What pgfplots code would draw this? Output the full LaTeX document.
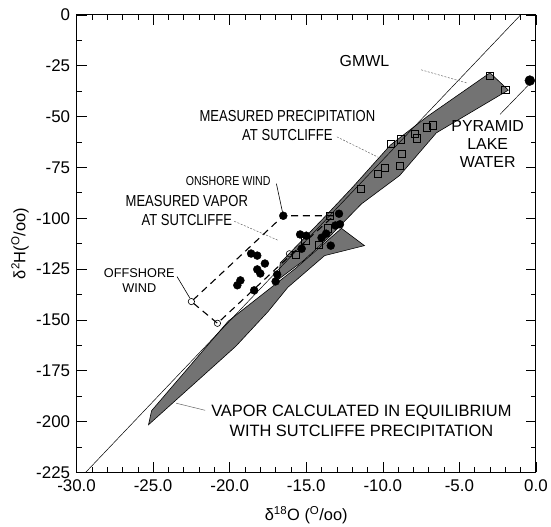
\documentclass[border=0pt]{standalone}
\usepackage{fontspec}
\setmainfont{Liberation Sans}
\newfontfamily\narrowfont[FakeStretch=0.82]{Liberation Sans}
\usepackage{pgfplots}
\pgfplotsset{compat=1.18}
\begin{document}
\begin{tikzpicture}
\begin{axis}[
  scale only axis, width=462pt, height=460pt,
  xmin=-30, xmax=0, ymin=-225, ymax=0,
  clip=false,
  xtick={-30,-25,-20,-15,-10,-5,0},
  xticklabels={-30.0,-25.0,-20.0,-15.0,-10.0,-5.0,0.0},
  ytick={-225,-200,-175,-150,-125,-100,-75,-50,-25,0},
  yticklabels={-225,-200,-175,-150,-125,-100,-75,-50,-25,0},
  minor x tick num=4, minor y tick num=1,
  tick align=inside,
  major tick length=10pt, minor tick length=5pt,
  tick style={black, line width=0.6pt},
  axis line style={line width=0.9pt},
  ticklabel style={font=\fontsize{17}{19}\selectfont},
  xticklabel style={yshift=-4pt},
  yticklabel style={xshift=-3pt},
  xlabel={δ\textsuperscript{18}O (\textsuperscript{O}/oo)},
  ylabel={δ\textsuperscript{2}H(\textsuperscript{O}/oo)},
  xlabel style={font=\fontsize{16.5}{18}\selectfont, at={(axis description cs:0.5,-0.093)}, anchor=center},
  ylabel style={font=\fontsize{16.5}{18}\selectfont, at={(axis description cs:-0.123,0.5)}, anchor=center},
]
% vapor calculated in equilibrium band
\addplot[fill=black!55, draw=black, line width=0.6pt] coordinates {
  (-25.3,-201.6) (-25.1,-194.7) (-20.1,-150.7) (-15.7,-124.7) (-12.7,-105)
  (-11.2,-113.5) (-13.8,-118.4) (-16.2,-134) (-17.5,-146) (-19.6,-163)
} -- cycle;
% measured precipitation band
\addplot[fill=black!55, draw=black, line width=0.6pt] coordinates {
  (-3.0,-28.5) (-1.8,-37) (-6.5,-58) (-8.9,-79) (-11.4,-93) (-13.6,-110)
  (-15.2,-121) (-16.8,-130) (-16.7,-122) (-14,-101) (-12,-85) (-9.5,-64) (-7.1,-50)
} -- cycle;
% GMWL
\addplot[black, line width=0.5pt] coordinates {(-29.4,-225) (-1.0,0)};
% dashed envelope of vapor samples
\addplot[black, line width=1.1pt, dash pattern=on 7pt off 5pt] coordinates {
  (-13.2,-98.8) (-16.5,-98.8) (-22.5,-141) (-20.8,-151.7) (-16.0,-118) (-13.2,-98.8)
};
% leader lines
\addplot[black!60, line width=0.5pt, dash pattern=on 2pt off 1.5pt] coordinates {(-7.5,-27) (-4.5,-33.5)};
\addplot[black!60, line width=0.5pt, dash pattern=on 2pt off 1.5pt] coordinates {(-13.0,-60) (-10.3,-70)};
\addplot[black!60, line width=0.5pt, dash pattern=on 2pt off 1.5pt] coordinates {(-19.7,-101.5) (-16.8,-111)};
\addplot[black, line width=0.5pt] coordinates {(-0.45,-34.2) (-2.34,-48.9)};
\addplot[black, line width=0.6pt] coordinates {(-16.95,-83) (-16.5,-98.8)};
\addplot[black, line width=0.6pt] coordinates {(-23.44,-128.7) (-22.6,-139.3)};
\addplot[black!60, line width=0.5pt] coordinates {(-23.5,-191) (-21.6,-194.5)};
% measured precipitation (open squares)
\addplot[only marks, mark=square, mark size=3.6pt, mark options={black, line width=0.7pt}] coordinates {
  (-3.0,-29.8) (-2.0,-37) (-6.75,-54.3) (-7.14,-55.3) (-7.92,-58.7) (-7.79,-60.7)
  (-8.83,-61.2) (-9.48,-63.6) (-8.77,-68.5) (-8.90,-74.4) (-9.87,-75.3) (-10.32,-78.3)
  (-11.43,-85.6) (-13.44,-98.8) (-13.57,-105) (-15.06,-111) (-14.2,-113) (-15.7,-118)
};
% open circles
\addplot[only marks, mark=o, mark size=3.2pt, mark options={black, line width=0.6pt}] coordinates {
  (-22.5,-141) (-20.8,-151.7) (-16.1,-117.5)
};
% measured vapor (filled circles)
\addplot[only marks, mark=*, mark size=4pt, mark options={black, fill=black}] coordinates {
  (-16.5,-98.8) (-12.86,-97.8) (-13.1,-103.6) (-12.8,-103.0) (-15.4,-108) (-15.0,-108.6)
  (-14.0,-109.6) (-13.7,-107.6) (-13.4,-113.5) (-15.3,-115) (-18.6,-117.4) (-18.2,-118.4)
  (-17.7,-122.3) (-18.2,-125.2) (-18.0,-127.2) (-16.9,-127.7) (-17.0,-131.1) (-19.3,-130.6)
  (-19.5,-133) (-18.4,-135.5)
};
% Pyramid Lake water
\addplot[only marks, mark=*, mark size=5pt, mark options={black, fill=black}] coordinates {(-0.4,-32.3)};
% labels
\node[font=\fontsize{16}{19.5}\selectfont] at (axis cs:-11.2,-22.8) {GMWL};
\node[font=\narrowfont\fontsize{16}{19}\selectfont, align=center] at (axis cs:-16.23,-54.5) {MEASURED PRECIPITATION\\AT SUTCLIFFE};
\node[font=\fontsize{16}{18}\selectfont, align=center] at (axis cs:-3.15,-63.6) {PYRAMID\\LAKE\\WATER};
\node[font=\narrowfont\fontsize{16}{19}\selectfont, align=center] at (axis cs:-22.8,-96.2) {MEASURED VAPOR\\AT SUTCLIFFE};
\node[font=\narrowfont\fontsize{13}{15}\selectfont] at (axis cs:-20.1,-81.7) {ONSHORE WIND};
\node[font=\fontsize{12.8}{15}\selectfont, align=center] at (axis cs:-25.9,-130.7) {OFFSHORE\\WIND};
\node[font=\fontsize{16.5}{20}\selectfont, align=center] at (axis cs:-11.4,-199.6) {VAPOR CALCULATED IN EQUILIBRIUM\\WITH SUTCLIFFE PRECIPITATION};
\end{axis}
\path ([shift={(-77pt,-55pt)}]current axis.south west) ([shift={(12pt,15pt)}]current axis.north east);
\end{tikzpicture}
\end{document}
